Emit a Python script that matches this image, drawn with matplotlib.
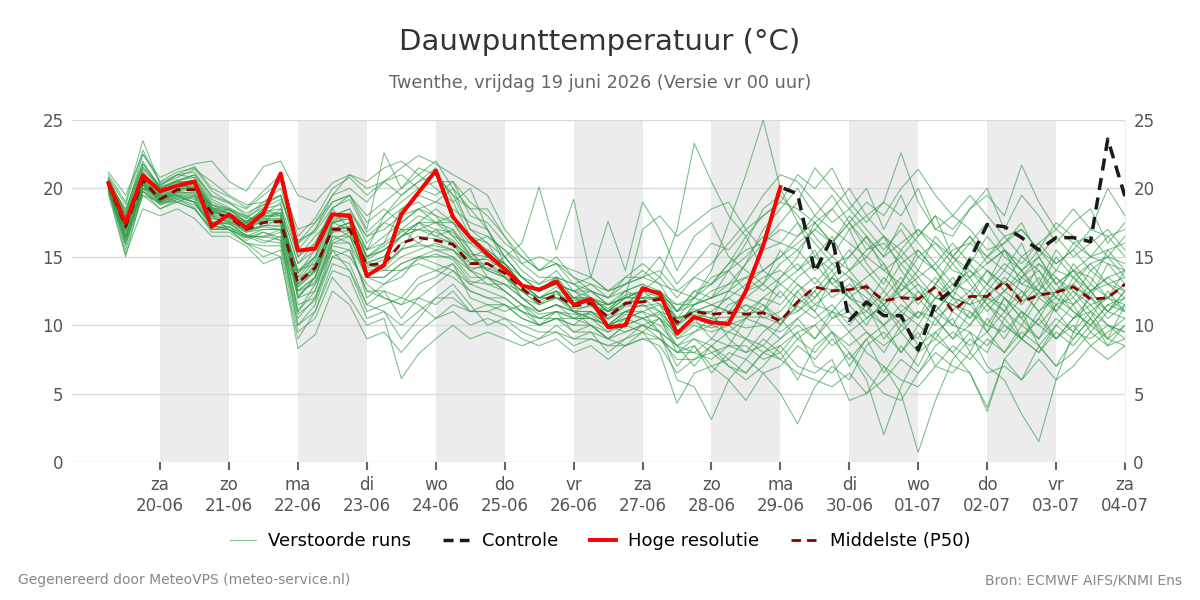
import numpy as np
import pandas as pd
import matplotlib
matplotlib.use("Agg")
import matplotlib.pyplot as plt
from matplotlib.lines import Line2D

plt.rcParams['font.family'] = ['DejaVu Sans']

# 6-hourly time steps, first value 19-06 06:00
times = pd.date_range("2026-06-19 06:00", periods=60, freq="6h")

# hoge resolutie (ends 29-06 00:00)
hires = [20.4, 17.5, 20.95, 19.8, 20.2, 20.5, 17.2, 18.1, 17.1, 18.2,
         21.1, 15.45, 15.6, 18.1, 18.0, 13.6, 14.4, 18.1, 19.7, 21.3,
         17.9, 16.4, 15.2, 14.1, 12.9, 12.6, 13.2, 11.5, 11.9, 9.85,
         10.0, 12.7, 12.3, 9.4, 10.6, 10.2, 10.1, 12.5, 15.8, 20.1]

# controle run: identical to hires for the first part
control = hires[:39] + [20.1, 19.6, 13.9, 16.4, 10.35, 11.7, 10.7, 10.7, 8.2, 11.6,
                        12.6, 14.8, 17.35, 17.2, 16.4, 15.5, 16.4, 16.4, 16.1, 23.6, 19.4]

# median (P50)
median = [20.3, 17.2, 20.6, 19.2, 19.9, 19.9, 18.2, 17.9, 17.0, 17.5,
          17.6, 13.1, 14.2, 17.0, 17.0, 14.4, 14.5, 16.0, 16.4, 16.2,
          15.9, 14.5, 14.5, 13.8, 12.7, 11.7, 12.2, 11.4, 11.6, 10.6,
          11.6, 11.7, 11.9, 10.2, 11.0, 10.8, 10.9, 10.8, 10.9, 10.3,
          11.7, 12.8, 12.5, 12.6, 12.8, 11.8, 12.0, 11.9, 12.8, 11.0,
          12.1, 12.1, 13.2, 11.7, 12.2, 12.4, 12.8, 11.9, 12.0, 13.0]

# perturbed members
members_txt = """
20.4 18.5 22.0 20.0 20.5 21.0 19.5 19.0 18.0 19.0 20.0 16.0 17.0 19.5 20.0 19.0 20.5 21.0 20.0 19.5 20.5 18.0 17.5 16.0 15.0 14.0 15.0 13.5 12.5 12.0 13.0 14.0 13.0 11.0 12.5 12.0 14.0 16.0 18.5 19.5 18.0 16.5 15.0 17.0 14.5 13.0 15.5 14.0 16.5 15.0 13.5 15.0 14.0 16.0 13.0 15.5 14.0 12.5 13.5 14.0
20.0 15.5 19.5 18.5 19.0 18.5 17.0 17.0 16.0 15.5 15.0 9.0 11.0 14.0 13.5 10.5 11.0 9.0 10.5 12.0 13.0 11.5 10.0 10.5 9.5 9.0 10.0 9.0 9.5 8.0 9.0 10.0 9.5 7.0 8.5 6.5 8.0 7.5 9.0 8.0 6.0 8.5 9.5 7.0 9.0 6.5 8.5 7.0 9.5 10.5 8.0 10.5 9.0 11.0 8.5 10.0 11.5 9.5 11.0 10.5
20.5 17.0 21.0 20.0 20.5 20.5 18.5 18.0 17.5 18.0 19.0 12.0 13.5 17.5 18.0 15.0 16.0 18.5 19.0 18.0 16.5 15.0 15.5 14.5 13.0 12.5 13.5 12.0 12.0 11.0 12.5 13.0 12.5 10.0 11.5 12.0 13.0 14.5 17.0 18.5 20.0 18.0 19.5 17.5 16.0 14.5 12.0 10.5 13.0 12.0 14.5 13.0 15.5 14.0 12.5 11.0 13.0 12.0 14.5 13.0
19.8 16.0 20.0 19.5 19.5 19.0 17.5 17.5 16.5 17.0 17.0 11.0 12.5 16.5 16.0 12.0 13.0 13.5 15.0 14.5 14.0 13.0 13.5 12.5 11.5 10.5 11.0 10.5 10.5 9.5 10.5 11.0 11.5 9.0 10.0 9.5 10.0 9.0 8.5 10.0 11.5 12.5 10.5 11.0 9.5 8.0 10.0 9.0 11.5 10.0 12.0 9.5 11.0 10.0 12.0 11.0 9.5 12.5 11.0 12.0
20.2 17.5 20.5 19.0 20.0 20.5 18.0 18.5 17.5 18.5 18.0 13.5 15.0 18.0 18.5 16.0 17.5 17.0 16.0 17.0 16.0 14.0 13.0 13.0 12.5 12.0 12.0 11.5 12.0 11.5 12.0 12.5 13.5 17.0 23.3 20.5 18.0 16.5 14.0 13.0 12.0 11.0 13.5 12.0 11.5 13.5 12.0 13.0 11.0 12.5 11.5 13.0 12.0 10.5 12.5 11.5 13.5 12.0 11.0 12.5
20.6 18.0 21.5 20.2 21.0 20.8 19.0 18.5 18.0 17.5 18.5 14.5 16.0 18.5 17.0 15.5 18.0 19.5 20.5 21.5 19.0 16.5 15.0 14.0 12.0 11.0 11.5 11.0 10.5 10.0 11.0 10.5 11.0 10.5 12.0 14.0 17.5 21.0 25.0 20.0 17.5 15.0 16.5 14.0 12.5 11.0 13.0 15.5 14.0 12.0 10.5 12.5 11.0 13.5 15.0 13.0 11.5 13.0 12.0 14.0
20.0 16.5 20.0 19.5 19.0 19.5 18.0 17.0 16.5 16.5 17.0 12.5 13.0 15.5 15.0 13.0 12.0 11.5 13.0 13.5 14.5 12.0 11.5 11.0 11.5 10.0 10.5 10.0 11.0 10.0 9.5 10.0 10.5 9.5 10.5 11.0 9.0 8.0 9.5 10.5 9.0 10.0 8.5 9.5 8.0 7.0 5.0 0.7 4.5 7.5 9.0 8.0 10.5 9.0 11.0 9.0 10.5 11.5 10.0 9.5
20.4 17.8 21.2 19.6 20.3 20.0 18.8 18.2 17.2 17.8 17.5 14.0 14.5 17.0 17.5 14.5 15.0 16.5 17.5 16.5 17.0 15.5 14.0 13.5 12.0 11.5 12.5 11.0 11.5 10.5 11.5 12.0 11.0 9.5 10.5 10.0 11.5 12.0 11.5 10.0 12.5 11.0 9.5 8.0 6.0 2.0 5.5 8.0 10.5 9.0 11.0 9.5 12.0 10.5 9.0 11.5 12.0 10.5 12.5 11.0
20.1 16.8 20.3 19.0 19.7 19.5 17.8 17.6 16.8 17.2 17.8 12.8 14.0 16.8 17.2 14.0 14.2 15.5 16.0 15.5 15.0 14.0 14.5 13.5 12.5 11.5 12.0 11.0 11.0 10.0 10.5 11.0 9.5 6.0 5.5 3.1 6.0 7.5 6.5 5.0 2.8 5.5 7.0 6.0 8.5 9.5 8.0 10.0 9.0 11.0 10.0 12.0 11.5 9.0 10.5 12.5 11.0 10.0 11.5 12.0
20.3 17.4 20.8 19.4 20.0 20.2 18.5 17.8 17.0 17.3 17.2 13.2 14.8 17.2 16.5 14.8 15.5 16.5 17.0 16.8 16.2 14.8 14.8 14.0 13.0 12.0 12.5 11.5 12.0 11.0 12.0 12.0 12.0 10.5 11.0 11.5 11.0 11.5 10.5 11.0 12.5 13.5 12.0 13.0 12.0 11.0 10.5 12.5 11.0 10.0 9.5 7.0 6.0 3.5 1.5 6.0 9.5 11.0 9.0 11.5
20.8 18.2 22.5 20.5 21.2 21.5 19.8 19.0 18.5 19.5 20.5 17.0 17.5 19.0 19.5 18.0 19.0 20.0 21.5 21.0 19.5 17.0 16.5 15.5 14.0 13.0 14.0 12.5 13.0 12.0 13.5 13.5 15.0 13.0 14.5 16.0 15.5 17.0 18.0 19.0 21.0 20.0 21.5 19.0 17.5 19.0 18.0 20.0 17.0 16.5 18.5 20.0 17.0 19.5 18.0 16.0 17.5 18.5 16.0 17.5
19.6 15.0 19.8 18.5 19.2 18.8 17.5 17.2 16.5 16.0 16.5 10.0 11.5 15.0 14.5 11.5 12.5 10.5 12.0 13.0 14.0 12.5 12.0 11.5 10.5 10.0 11.0 9.5 10.0 9.0 10.0 10.5 10.0 8.5 9.5 10.5 12.5 14.5 16.0 17.5 19.0 21.5 20.0 18.5 20.0 17.0 19.5 16.5 18.0 15.0 16.5 14.5 15.5 13.0 14.0 12.0 14.5 13.0 15.5 14.0
20.5 17.6 21.4 20.0 20.5 19.8 18.4 17.8 17.4 18.5 18.8 15.0 16.5 17.8 18.0 15.5 16.5 17.5 18.5 17.5 18.0 16.5 16.0 15.0 13.5 12.5 13.0 12.5 12.5 11.5 12.5 12.0 12.5 10.5 11.0 11.0 12.0 11.0 12.0 13.0 14.0 15.0 14.0 15.5 14.0 12.5 14.5 13.0 12.0 13.5 12.0 14.0 13.0 12.0 14.5 13.5 12.0 14.0 13.0 13.5
20.0 16.2 20.2 19.0 19.4 19.0 17.2 17.2 16.2 16.8 16.2 11.5 12.0 15.8 15.5 12.5 12.5 12.0 13.5 14.0 14.5 13.0 12.5 12.0 11.0 10.5 10.5 10.0 10.0 9.0 8.5 9.5 8.0 4.3 6.5 7.0 6.0 4.5 6.5 7.0 8.5 7.5 9.0 7.5 9.0 10.0 8.0 9.5 7.0 8.5 7.5 9.0 8.0 9.5 8.5 7.0 9.0 10.5 9.0 10.0
20.3 17.0 20.5 19.3 19.8 20.0 18.0 18.0 17.2 17.6 17.4 13.0 14.5 17.0 17.5 14.5 14.0 15.0 15.5 16.0 15.5 14.5 15.0 14.5 13.0 12.0 12.0 12.0 11.5 11.0 11.5 12.0 12.0 10.0 11.0 10.5 10.0 10.5 11.5 10.5 11.0 12.0 13.5 12.5 13.5 14.5 12.5 13.5 12.0 13.0 14.0 12.5 14.0 13.0 12.5 14.0 13.5 12.5 13.0 12.5
20.6 17.2 21.0 19.8 20.4 20.6 18.6 18.4 17.8 17.9 18.2 13.8 15.5 17.6 18.2 16.5 17.0 18.0 18.5 18.0 17.5 16.0 15.0 14.5 13.0 12.5 13.0 12.0 12.5 11.5 12.0 12.5 11.5 10.0 11.5 12.0 12.5 13.5 14.0 15.0 16.0 17.0 18.5 17.0 18.0 19.0 22.6 19.0 17.0 18.0 17.0 15.5 16.0 17.5 15.0 16.5 15.0 16.0 17.0 15.5
20.2 16.6 20.4 19.2 19.6 19.4 17.6 17.4 16.6 16.4 16.8 11.0 13.0 16.0 16.0 13.5 13.5 14.5 15.0 15.0 15.0 13.5 13.5 13.0 12.0 11.0 11.5 11.0 11.0 10.5 11.0 11.5 10.5 8.0 9.0 8.5 9.5 9.0 8.0 8.5 7.0 6.5 7.5 4.5 5.0 6.0 7.5 6.5 8.0 7.0 6.5 4.0 7.5 6.0 8.5 7.0 8.0 9.5 8.5 9.0
20.4 17.4 20.8 19.6 20.2 20.2 18.2 18.0 17.4 17.8 17.8 13.5 14.0 17.5 17.0 15.0 15.5 16.5 17.5 17.5 16.5 16.0 16.5 15.5 14.5 15.0 14.5 14.0 13.5 17.6 14.0 19.0 17.0 14.0 16.5 17.5 15.0 14.0 13.0 15.5 14.0 15.5 13.0 14.0 15.0 14.0 13.0 15.0 14.0 12.5 15.0 14.0 12.5 13.5 12.5 15.0 13.5 14.5 13.0 12.0
20.1 17.0 20.6 19.4 19.9 20.1 18.0 17.5 17.0 17.6 17.8 12.5 13.5 17.0 17.2 14.6 15.0 17.0 17.0 16.5 16.0 15.0 14.0 15.0 16.0 20.1 15.5 19.2 13.5 12.5 13.0 13.5 14.0 12.5 12.0 13.5 14.0 12.5 13.5 14.0 13.0 12.0 13.5 15.0 16.5 15.0 16.0 17.0 15.5 14.0 13.5 14.5 15.5 14.0 15.0 13.0 14.0 15.0 14.5 14.0
20.0 16.0 19.5 19.0 19.0 18.5 17.0 17.0 16.0 15.0 15.5 9.5 10.5 13.5 12.0 10.0 10.5 6.1 7.9 9.0 10.0 9.0 9.5 9.0 8.5 9.0 9.5 8.5 9.0 8.5 8.5 9.0 9.0 8.0 8.0 9.0 8.5 8.5 7.5 8.0 9.5 10.0 11.0 9.5 10.5 11.5 10.0 11.0 10.5 11.5 11.0 10.0 12.0 11.0 10.0 11.5 10.5 11.0 10.0 9.5
21.0 19.0 23.5 20.3 20.8 21.4 20.5 19.5 18.8 19.0 19.5 15.5 17.0 19.0 19.5 17.5 18.5 17.5 18.5 19.0 20.0 18.5 17.0 15.0 13.5 12.5 13.5 12.0 11.5 11.0 11.5 12.5 12.0 11.5 12.0 13.0 14.0 15.0 16.5 16.0 15.5 17.0 16.0 18.0 16.5 15.0 17.5 16.0 14.5 16.0 14.5 16.5 15.0 14.0 15.5 14.0 16.0 15.0 15.5 16.0
20.2 16.4 20.0 19.0 19.5 19.2 17.3 17.0 16.4 16.8 16.4 12.2 13.2 16.2 16.8 13.8 14.0 14.0 14.8 15.2 14.8 13.2 13.0 12.5 11.5 10.8 11.0 10.8 10.8 9.8 10.8 10.5 10.8 9.2 10.2 9.8 10.2 9.8 10.0 9.5 10.5 11.5 11.0 10.5 11.0 10.0 11.5 10.5 12.0 11.5 10.5 12.0 11.0 12.5 11.0 12.0 11.0 10.0 11.5 11.0
20.6 18.4 21.8 20.1 20.6 21.0 19.2 18.6 17.9 18.6 19.2 16.2 16.8 18.6 19.2 16.8 18.0 19.0 20.0 20.5 20.5 19.0 18.0 16.5 14.5 13.5 13.5 13.0 12.5 12.0 12.5 13.0 12.0 11.0 11.5 12.5 13.0 13.5 12.5 13.5 14.5 13.0 14.5 13.5 12.5 11.5 13.0 12.0 13.5 12.0 11.5 12.0 13.5 12.5 11.0 12.5 14.0 13.5 12.0 13.0
20.3 17.1 20.7 19.5 20.0 20.0 18.3 17.9 17.1 17.7 17.6 13.0 14.3 17.1 17.1 14.3 14.8 16.0 16.5 16.3 16.0 14.6 14.5 13.8 12.8 11.8 12.3 11.5 11.7 10.7 11.7 11.8 12.0 10.3 11.2 10.8 11.0 10.9 11.0 10.4 11.8 12.8 12.6 12.6 12.9 11.8 12.1 12.0 12.8 11.1 12.1 12.2 13.2 11.8 12.3 12.4 12.8 12.0 12.0 13.0
20.1 16.9 20.3 19.1 19.7 19.7 18.0 17.7 16.9 17.3 17.3 12.8 13.9 16.8 16.9 14.2 14.4 15.6 15.8 15.8 15.5 14.2 14.2 13.6 12.5 11.5 12.0 11.2 11.4 10.4 11.4 11.4 11.6 10.0 10.8 10.5 10.6 10.6 10.6 10.1 11.4 10.5 11.5 10.0 11.5 9.0 10.5 8.5 9.5 8.0 6.5 3.7 7.5 9.0 8.0 10.0 9.0 10.5 8.5 10.0
20.5 17.3 21.0 19.6 20.1 20.4 18.6 18.1 17.5 17.9 18.0 13.8 15.0 17.5 17.8 15.0 15.8 16.8 17.5 17.0 16.8 15.2 15.0 14.5 13.0 12.0 12.8 11.8 12.0 11.2 12.2 12.5 12.5 11.0 12.0 11.5 12.0 13.0 14.0 15.0 16.5 17.5 16.0 17.5 15.5 16.5 15.0 16.5 18.0 17.0 18.5 19.5 18.0 21.7 19.0 17.0 18.5 17.0 20.0 18.0
20.8 18.8 22.8 20.4 21.0 21.6 20.0 19.4 18.6 19.8 21.0 16.5 17.8 20.0 20.8 19.5 20.5 21.5 22.4 21.8 21.0 20.3 19.5 17.0 15.5 14.0 14.5 13.5 13.0 12.5 13.5 14.5 13.5 12.0 13.5 14.5 16.0 17.5 19.5 21.0 20.5 19.0 17.5 18.5 17.0 15.5 17.0 15.0 16.0 14.5 16.0 17.5 15.5 14.5 16.0 14.5 15.5 17.0 16.5 15.0
19.8 15.2 18.5 18.0 18.5 17.8 16.5 16.5 15.8 14.5 15.0 8.3 9.3 12.5 11.5 9.0 9.5 8.0 9.5 10.5 11.0 10.0 10.5 10.0 9.0 8.5 9.0 8.0 8.5 7.5 8.5 9.0 8.5 6.5 7.5 8.0 7.0 6.5 8.0 7.5 9.0 8.0 9.5 8.5 9.5 8.5 9.5 8.0 9.0 8.0 9.5 8.5 10.0 9.0 8.0 9.5 8.5 10.0 9.0 8.5
20.7 18.0 21.8 20.2 21.0 21.2 19.4 18.9 18.2 18.8 19.5 16.0 17.5 19.5 21.0 20.5 21.5 22.0 21.0 20.0 19.0 20.0 17.0 14.5 13.0 12.0 12.5 11.0 10.0 9.0 9.5 10.0 9.5 8.5 7.0 8.5 7.5 9.0 11.0 13.5 15.0 17.5 18.5 20.0 18.0 16.5 14.0 12.5 11.0 12.5 13.5 11.5 12.5 14.0 12.0 13.5 12.5 11.0 12.0 11.5
20.2 16.2 20.0 18.8 19.4 19.0 17.0 17.2 16.6 16.2 16.0 10.5 12.0 15.0 15.5 12.5 12.0 11.5 12.0 11.5 12.5 11.0 11.5 11.5 10.5 10.0 10.5 9.5 9.5 9.0 10.0 9.5 10.5 8.5 8.0 7.5 8.5 10.5 12.0 11.5 13.0 11.5 12.5 13.5 11.5 10.0 11.0 12.0 10.5 9.0 10.0 11.5 10.0 9.0 10.5 9.0 10.0 8.5 9.5 10.5
20.4 17.6 21.2 19.8 20.2 20.6 18.8 18.4 17.6 18.3 18.5 14.5 15.5 18.0 18.5 16.5 17.5 18.5 19.5 19.0 18.5 17.5 17.0 15.0 13.5 13.0 13.5 13.0 12.0 11.0 12.0 17.0 18.0 16.5 17.5 18.5 19.0 17.0 15.5 16.0 17.5 16.0 14.5 15.0 16.5 14.0 15.0 13.5 14.5 13.0 12.5 14.0 13.0 15.0 14.0 12.5 13.0 14.5 15.0 13.5
20.3 17.3 20.6 19.3 19.9 20.1 18.4 17.9 17.3 18.0 18.2 12.0 13.5 17.0 17.5 13.5 14.5 15.5 17.5 18.5 17.5 15.5 13.5 12.5 11.5 11.0 11.5 10.5 11.0 10.0 11.0 11.0 10.5 9.0 9.5 10.0 9.5 10.5 10.0 9.0 10.0 9.0 10.5 11.5 10.0 12.0 13.5 11.5 13.0 14.5 13.0 11.5 10.5 12.0 13.5 11.0 12.5 11.5 12.0 11.0
21.2 19.5 22.5 20.8 21.4 21.8 22.0 20.5 19.8 21.6 22.0 19.5 19.0 20.4 21.0 20.0 20.5 19.5 20.5 21.0 19.5 18.5 18.5 16.5 15.0 14.0 14.5 13.0 13.5 12.5 13.0 13.5 13.0 12.5 13.5 13.0 14.5 15.5 16.0 17.0 16.5 18.0 17.0 16.0 15.0 16.5 15.5 17.0 16.0 15.0 16.5 15.0 16.0 17.0 15.5 14.5 15.5 14.0 15.0 14.5
20.0 16.4 20.2 19.2 19.5 19.3 17.5 17.4 16.8 17.0 17.0 12.0 12.5 16.0 16.5 13.5 13.0 14.0 14.5 14.0 13.5 12.5 12.0 12.0 11.0 10.0 10.5 10.5 10.0 9.5 10.0 10.5 9.5 8.5 9.0 8.0 8.5 8.0 8.5 7.5 6.5 6.0 5.5 6.5 5.0 7.0 6.0 5.5 7.0 6.5 8.0 6.5 7.0 6.0 7.5 6.0 7.0 8.5 7.5 8.5
20.5 17.0 21.0 19.7 20.3 20.3 18.5 18.2 17.6 18.2 18.2 13.0 14.0 17.5 17.8 15.0 15.5 16.5 17.0 17.5 17.0 15.0 14.0 13.5 12.5 12.0 12.5 12.0 12.0 11.0 11.5 12.5 12.5 11.0 12.5 13.0 14.5 16.5 18.0 19.0 18.5 17.5 16.0 17.5 19.0 18.0 20.0 21.4 19.5 18.0 19.5 18.0 16.5 17.0 15.5 17.5 16.5 15.0 16.5 17.0
20.1 16.5 19.8 18.9 19.3 19.0 17.3 17.0 16.4 16.5 16.2 10.8 11.8 15.5 14.0 11.0 11.5 12.0 11.5 10.5 11.5 11.0 11.0 11.5 11.0 10.5 11.0 10.5 10.5 10.0 11.0 11.5 11.0 9.5 10.5 9.0 10.5 11.5 11.0 12.5 11.0 12.5 14.0 12.0 13.0 11.5 12.5 14.0 13.0 15.0 14.0 13.0 14.5 13.5 14.5 13.0 14.0 12.5 13.5 12.5
20.6 18.2 21.6 20.0 20.6 20.8 18.8 18.5 17.8 18.8 19.5 15.0 16.0 18.5 19.5 17.0 22.6 20.0 21.0 22.0 20.0 17.0 16.0 14.0 13.0 12.5 13.0 12.5 11.5 11.5 12.0 12.0 12.0 10.5 11.0 11.5 11.0 12.5 13.0 12.0 13.5 14.5 13.0 12.0 11.0 12.5 11.0 10.0 12.0 11.5 12.5 11.0 12.5 11.5 13.0 12.0 11.5 12.5 11.0 12.5
20.2 16.9 20.4 19.2 19.8 19.6 17.8 17.6 16.9 17.2 17.0 12.5 13.5 16.5 16.5 13.5 13.5 14.5 15.0 15.5 15.5 14.0 13.5 13.0 12.0 11.0 11.5 11.0 10.5 10.0 10.5 10.0 9.0 8.0 8.5 7.0 7.5 6.5 8.0 9.0 10.5 9.0 11.0 12.5 10.5 11.5 9.5 11.0 10.0 12.0 11.5 10.0 9.5 11.0 10.0 9.0 10.5 12.0 10.5 11.5
20.4 17.5 20.9 19.7 20.2 20.4 18.6 18.2 17.6 18.0 18.0 14.0 15.0 18.0 18.0 15.5 16.0 17.0 18.0 17.5 17.5 16.5 15.5 14.5 13.5 12.5 13.0 12.5 12.0 11.5 12.0 12.5 12.5 11.5 11.5 12.0 12.5 12.0 13.0 14.5 15.5 14.0 15.0 14.0 15.5 16.0 14.5 15.5 14.0 15.5 16.0 15.0 16.5 15.0 16.0 17.0 16.0 16.5 15.0 16.5
20.0 15.8 19.8 18.8 19.2 18.6 16.8 16.8 16.0 15.8 15.8 10.0 11.0 14.5 14.0 11.5 11.0 10.0 11.0 12.0 12.0 11.0 11.0 10.5 10.0 9.5 9.5 9.0 9.0 8.5 9.0 9.5 9.0 7.5 7.5 8.5 7.0 6.0 7.0 8.5 9.5 7.0 6.5 8.0 6.5 5.0 4.5 6.5 8.5 9.5 8.5 9.5 8.0 10.0 9.0 10.5 9.5 9.0 10.0 9.0
"""
members = [[float(v) for v in row.split()] for row in members_txt.strip().splitlines()]

days = pd.date_range("2026-06-20", "2026-07-04", freq="D")
day_names = ['ma', 'di', 'wo', 'do', 'vr', 'za', 'zo']
tick_labels = [day_names[d.weekday()] + "\n" + d.strftime("%d-%m") for d in days]

fig = plt.figure(figsize=(12, 6), dpi=100)
ax = fig.add_axes([0.06, 0.23, 0.8775, 0.57])

# alternating day shading
for d in days[::2][:-1]:
    ax.axvspan(d, d + pd.Timedelta(days=1), color='#ececec', lw=0, zorder=0)

for m in members:
    ax.plot(times, m, color='#2e9b45', lw=0.8, alpha=0.62, zorder=2)
ax.plot(times, median, color='#8b0000', lw=2, ls=(0, (3.2, 2.2)), zorder=3)
ax.plot(times, control, color='#1a1a1a', lw=2.5, ls=(0, (3.5, 2.2)), zorder=4)
ax.plot(times[:len(hires)], hires, color='#ff0000', lw=2.8, zorder=5)

ax.set_xlim(pd.Timestamp("2026-06-18 17:20"), pd.Timestamp("2026-07-04"))
ax.set_ylim(0, 25)
ax.set_yticks([0, 5, 10, 15, 20, 25])
ax.set_xticks(days)
ax.set_xticklabels(tick_labels)
ax.grid(True, axis='y', color='#d9d9d9', lw=1, zorder=1)
ax.set_axisbelow(True)
for s in ['top', 'left', 'bottom']:
    ax.spines[s].set_visible(False)
ax.spines['right'].set_color('#eeeeee')
ax.tick_params(axis='y', length=0, labelsize=12, labelcolor='#555555',
               labelleft=True, labelright=True, pad=6)
ax.tick_params(axis='x', length=6, width=1.5, color='#666666', labelsize=12,
               labelcolor='#555555', pad=4)

fig.text(0.5, 0.93, "Dauwpunttemperatuur (°C)", ha='center', va='center',
         fontsize=21, color='#333333')
fig.text(0.5, 0.861, "Twenthe, vrijdag 19 juni 2026 (Versie vr 00 uur)", ha='center',
         va='center', fontsize=12.7, color='#666666')

handles = [Line2D([], [], color='#2e9b45', lw=0.8, alpha=0.6),
           Line2D([], [], color='#1a1a1a', lw=2.5, ls=(0, (2.9, 1.8))),
           Line2D([], [], color='#ff0000', lw=2.8),
           Line2D([], [], color='#8b0000', lw=2, ls=(0, (3.4, 2.2)))]
fig.legend(handles, ['Verstoorde runs', 'Controle', 'Hoge resolutie', 'Middelste (P50)'],
           loc='center', bbox_to_anchor=(0.5, 0.098), ncol=4, frameon=False,
           fontsize=13, handlelength=1.45, handletextpad=0.7, columnspacing=1.75)

fig.text(0.015, 0.033, "Gegenereerd door MeteoVPS (meteo-service.nl)", fontsize=10,
         color='#888888', va='center')
fig.text(0.985, 0.033, "Bron: ECMWF AIFS/KNMI Ens", fontsize=10, color='#888888',
         ha='right', va='center')

fig.savefig("out.png", dpi=100)
